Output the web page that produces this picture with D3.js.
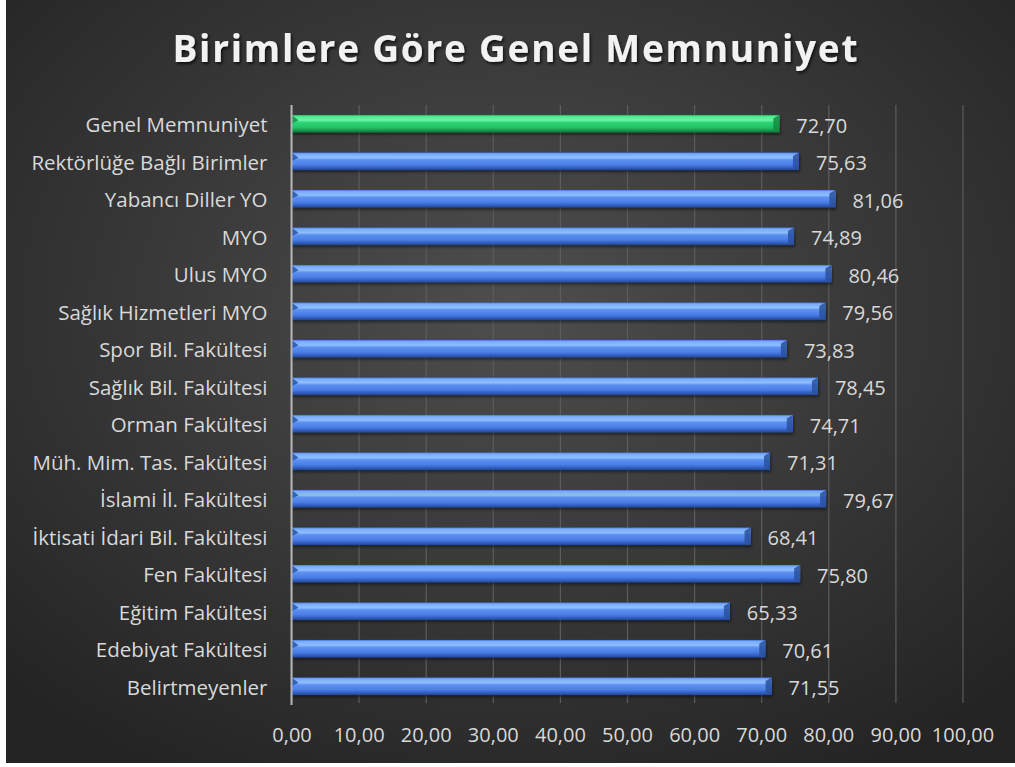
<!DOCTYPE html>
<html><head><meta charset="utf-8">
<script src="https://cdn.jsdelivr.net/npm/d3@7"></script>
<style>html,body{margin:0;padding:0;background:#fff;}svg{display:block;}</style>
</head><body>
<script>
const title = "Birimlere Göre Genel Memnuniyet";
const categories = ["Genel Memnuniyet","Rektörlüğe Bağlı Birimler","Yabancı Diller YO","MYO","Ulus MYO","Sağlık Hizmetleri MYO","Spor Bil. Fakültesi","Sağlık Bil. Fakültesi","Orman Fakültesi","Müh. Mim. Tas. Fakültesi","İslami İl. Fakültesi","İktisati İdari Bil. Fakültesi","Fen Fakültesi","Eğitim Fakültesi","Edebiyat Fakültesi","Belirtmeyenler"];
const values = [72.70,75.63,81.06,74.89,80.46,79.56,73.83,78.45,74.71,71.31,79.67,68.41,75.80,65.33,70.61,71.55];
const ticks = [0,10,20,30,40,50,60,70,80,90,100];
const highlight = ["Genel Memnuniyet"];

const W = 1015, H = 767;
const FONT = "'Open Sans', 'Noto Sans', sans-serif";
const fmt = v => v.toFixed(2).replace(".", ",");
const svg = d3.select("body").append("svg").attr("width", W).attr("height", H);
const defs = svg.append("defs");

const bg = defs.append("radialGradient").attr("id","bg").attr("cx","50%").attr("cy","40%").attr("r","70%");
bg.append("stop").attr("offset","0%").attr("stop-color","#4e4e4e");
bg.append("stop").attr("offset","100%").attr("stop-color","#242424");

function barGrad(id, c) {
  const g = defs.append("linearGradient").attr("id", id).attr("x1",0).attr("y1",0).attr("x2",0).attr("y2",1);
  c.forEach(([o, col]) => g.append("stop").attr("offset", o).attr("stop-color", col));
}
barGrad("gBlue", [[0,"#3f70d6"],[0.08,"#78aaf8"],[0.3,"#8fbfff"],[0.42,"#5c91f0"],[0.7,"#4a7ee6"],[0.85,"#3562c6"],[1,"#24458f"]]);
barGrad("gGreen", [[0,"#1ea85a"],[0.08,"#4ee890"],[0.3,"#6af5a8"],[0.42,"#2fd475"],[0.7,"#22c466"],[0.85,"#18a052"],[1,"#0f7038"]]);
const sh = defs.append("filter").attr("id","sh").attr("x","-5%").attr("y","-50%").attr("width","110%").attr("height","200%");
sh.append("feDropShadow").attr("dx",1).attr("dy",2).attr("stdDeviation",1.5).attr("flood-color","#000").attr("flood-opacity",0.5);
const ts = defs.append("filter").attr("id","ts").attr("x","-5%").attr("y","-30%").attr("width","110%").attr("height","160%");
ts.append("feDropShadow").attr("dx",1.5).attr("dy",2).attr("stdDeviation",1.5).attr("flood-color","#000").attr("flood-opacity",0.7);

svg.append("rect").attr("x",6).attr("y",0).attr("width",W-6).attr("height",763).attr("fill","url(#bg)");

svg.append("text").attr("x",515).attr("y",62).attr("text-anchor","middle")
  .attr("font-family",FONT).attr("font-weight","bold").attr("font-size",37)
  .attr("fill","#f2f2f2").attr("filter","url(#ts)")
  .attr("textLength",685).attr("lengthAdjust","spacing").text(title);

const x = d3.scaleLinear().domain([0,100]).range([291.5, 962.5]);
const y = d3.scaleBand().domain(categories).range([105, 705]).paddingInner(0.53).paddingOuter(0.265);

// gridlines
const grid = svg.append("g").attr("transform","translate(0,703)")
  .call(d3.axisBottom(x).tickValues(ticks).tickSize(-598).tickFormat(""));
grid.select(".domain").remove();
grid.selectAll("line").attr("stroke","#5c5c5c").attr("stroke-width",1.2);

// x tick labels
const xa = svg.append("g").attr("transform","translate(0,703)")
  .call(d3.axisBottom(x).tickValues(ticks).tickSize(0).tickPadding(25).tickFormat(fmt));
xa.select(".domain").remove();
xa.selectAll("text").attr("font-family",FONT).attr("font-size",20).attr("fill","#d9d9d9");

// bars
const bars = svg.append("g");
bars.selectAll("rect").data(categories).join("rect")
  .attr("x", x(0)).attr("y", d => y(d)).attr("height", y.bandwidth())
  .attr("width", (d,i) => x(values[i]) - x(0))
  .attr("fill", d => highlight.includes(d) ? "url(#gGreen)" : "url(#gBlue)")
  .attr("filter","url(#sh)");
bars.selectAll("path.cap").data(categories).join("path").attr("class","cap")
  .attr("d", (d,i) => {
    const x1 = x(values[i]), y0 = y(d), h = y.bandwidth();
    return `M${x1-6},${y0+h*0.2} L${x1},${y0} L${x1},${y0+h} L${x1-6},${y0+h*0.85} Z`;
  })
  .attr("fill", d => highlight.includes(d) ? "#13893f" : "#2a509f").attr("opacity",0.85);
bars.selectAll("path.lcap").data(categories).join("path").attr("class","lcap")
  .attr("d", d => {
    const x0 = x(0), y0 = y(d), h = y.bandwidth();
    return `M${x0},${y0} L${x0+7},${y0+h*0.3} L${x0},${y0+h*0.5} Z`;
  })
  .attr("fill", d => highlight.includes(d) ? "#16944a" : "#2c56b0").attr("opacity",0.9);

// y axis line
svg.append("line").attr("x1",x(0)).attr("x2",x(0)).attr("y1",105).attr("y2",705)
  .attr("stroke","#b5b5b5").attr("stroke-width",2);

// category labels
const ya = svg.append("g").attr("transform",`translate(${x(0)},0)`)
  .call(d3.axisLeft(y).tickSize(0).tickPadding(24));
ya.select(".domain").remove();
ya.selectAll("text").attr("font-family",FONT).attr("font-size",20.5).attr("fill","#d9d9d9").attr("dy","0.42em");

// value labels
svg.append("g").selectAll("text").data(categories).join("text")
  .attr("x", (d,i) => x(values[i]) + 17)
  .attr("y", d => y(d) + y.bandwidth()/2 + 2)
  .attr("dy","0.35em")
  .attr("font-family",FONT).attr("font-size",20).attr("fill","#d9d9d9")
  .text((d,i) => fmt(values[i]));
</script>
</body></html>
